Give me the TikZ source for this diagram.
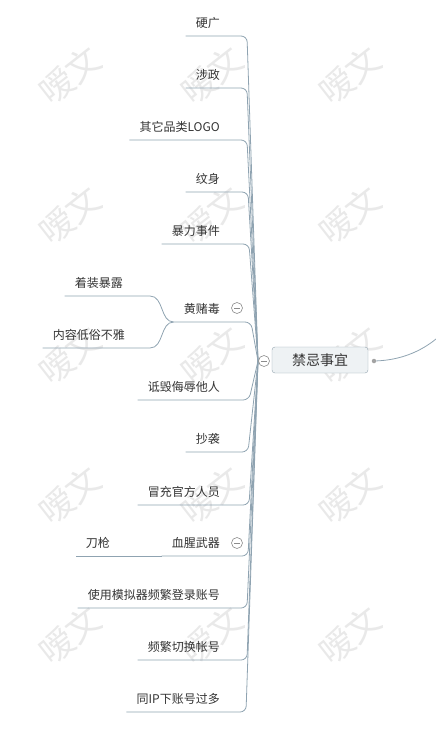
\documentclass[tikz,border=0pt]{standalone}
\usepackage{fontspec}
\newfontfamily\cjk{Noto Sans CJK SC}
\usetikzlibrary{positioning}
\definecolor{lineblue}{HTML}{8FA3B1}
\definecolor{inkgray}{HTML}{333333}
\definecolor{topicfill}{HTML}{EEF2F4}
\definecolor{topicline}{HTML}{93A3AE}
\definecolor{foldline}{HTML}{8C8C8C}
\definecolor{markgray}{HTML}{E9E9E9}

\begin{document}
\begin{tikzpicture}[x=1pt, y=-1pt,
  font=\cjk\fontsize{12}{14}\selectfont,
  topic/.style  = {draw=topicline, fill=topicfill, rounded corners=3pt, text=inkgray,
                   minimum width=96pt, minimum height=26pt,
                   font=\cjk\fontsize{14}{16}\selectfont},
  leaf/.style   = {anchor=south east, inner xsep=10pt, inner ysep=7pt, text=inkgray},
  branch/.style = {draw=lineblue, line width=0.8pt, rounded corners=6pt},
  sub/.style    = {draw=lineblue, line width=0.8pt},
  fold/.style   = {circle, draw=foldline, fill=white, line width=0.6pt, minimum size=11pt,
                   inner sep=0pt, path picture={\draw[foldline, line width=0.6pt]
                   ([xshift=-3pt]path picture bounding box.center) --
                   ([xshift=3pt]path picture bounding box.center);}},
  knobs/.style  = {circle, fill=foldline!80, minimum size=4.5pt, inner sep=0pt},
  wm/.style     = {text=markgray, font=\cjk\fontsize{34}{34}\selectfont, rotate=38},
]
\useasboundingbox (0,0) rectangle (436,750);

% --- the watermark grid ----------------------------------------------------------------------------
\foreach \wy in {75,215,355,495,635}
  \foreach \wx in {70,212,350}
    \node[wm] (wm-\wx-\wy) at (\wx,\wy) {嗳文};

% --- the topic and where the branches meet ---------------------------------------------------------
\node[topic] (topic) at (320,360) {禁忌事宜};
\coordinate (root) at (258,361);
\node[knobs] (knob) at (374,361) {};
\coordinate (away) at (436,339);
\draw[sub] (knob) .. controls (400,360) and (420,352) .. (away);

% --- the leaves, top to bottom ---------------------------------------------------------------------
\node[leaf] (yingguang)  at (230,36)  {硬广};
\node[leaf] (shezheng)   at (230,88)  {涉政};
\node[leaf] (logo)       at (230,140) {其它品类LOGO};
\node[leaf] (wenshen)    at (230,192) {纹身};
\node[leaf] (baoli)      at (230,244) {暴力事件};
\node[leaf] (huangdu)    at (230,322) {黄赌毒};
\node[leaf] (dihui)      at (230,400) {诋毁侮辱他人};
\node[leaf] (chaoxi)     at (230,452) {抄袭};
\node[leaf] (maochong)   at (230,505) {冒充官方人员};
\node[leaf] (xuexing)    at (230,556) {血腥武器};
\node[leaf] (moniqi)     at (230,608) {使用模拟器频繁登录账号};
\node[leaf] (qiehuan)    at (230,660) {频繁切换帐号};
\node[leaf] (tongip)     at (230,712) {同IP下账号过多};

% --- the second level ------------------------------------------------------------------------------
\node[leaf] (zhuangzhuo) at (133,296) {着装暴露};
\node[leaf] (neirong)    at (135,348) {内容低俗不雅};
\node[leaf] (daoqiang)   at (120,556) {刀枪};

% --- from the root out to each leaf ----------------------------------------------------------------
\draw[branch] (root) -- (247,36)  -- (yingguang.south west);
\draw[branch] (root) -- (247,88)  -- (shezheng.south west);
\draw[branch] (root) -- (247,140) -- (logo.south west);
\draw[branch] (root) -- (248,192) -- (wenshen.south west);
\draw[branch] (root) -- (249,244) -- (baoli.south west);
\draw[branch] (root) -- (251,322) -- (huangdu.south west);
\draw[branch] (root) -- (249,400) -- (dihui.south west);
\draw[branch] (root) -- (248,452) -- (chaoxi.south west);
\draw[branch] (root) -- (249,505) -- (maochong.south west);
\draw[branch] (root) -- (248,556) -- (xuexing.south west);
\draw[branch] (root) -- (247,608) -- (moniqi.south west);
\draw[branch] (root) -- (247,660) -- (qiehuan.south west);
\draw[branch] (root) -- (246,712) -- (tongip.south west);

% --- and on to the second level --------------------------------------------------------------------
\draw[sub] (huangdu.south west) .. controls (160,322) and (164,296) .. (150,296)
           -- (zhuangzhuo.south west);
\draw[sub] (huangdu.south west) .. controls (160,322) and (164,348) .. (150,348)
           -- (neirong.south west);
\draw[sub] (xuexing.south west) -- (daoqiang.south west);

% --- the fold marks --------------------------------------------------------------------------------
\node[fold] (hub)       at (264,361) {};
\node[fold] (foldhuang) at (237,308) {};
\node[fold] (foldxue)   at (237,543) {};

\end{tikzpicture}
\end{document}
